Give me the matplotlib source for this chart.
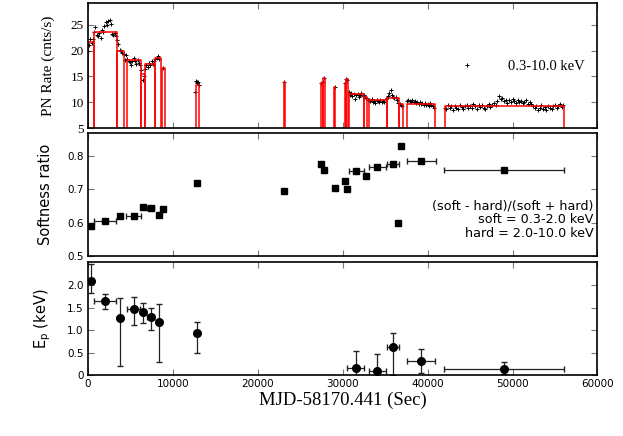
import numpy as np
import matplotlib
matplotlib.use("Agg")
import matplotlib.pyplot as plt

# ---- light curve (PN, 0.3-10 keV) ----
seg1_t0, seg1_dt = 0, 150
seg1_rate = [20.0, 21.0, 22.2, 21.5, 22.3, 23.6, 24.5, 23.0, 22.8, 23.4,
             22.5, 24.0, 23.6, 24.8, 25.5, 24.9, 25.8, 26.0, 25.2, 23.3,
             23.0, 23.4, 22.8, 22.0, 21.3, 20.2, 20.0, 19.6, 19.3, 18.1,
             19.2, 18.3, 18.0, 17.8, 17.3, 17.9, 18.5, 18.0, 17.4, 18.1,
             17.6, 17.2, 16.2, 14.3, 15.0, 16.5, 17.3, 16.9, 17.6, 17.2,
             17.9, 17.4, 18.0, 18.3, 18.6, 18.9, 18.4]
extra_t = [8900, 12650, 12750, 12800, 12900, 13000, 13100, 23100,
           27500, 27650, 27780, 29070, 30250, 30400, 30550]
extra_rate = [16.6, 12.0, 14.2, 14.0, 13.7, 13.9, 13.4, 13.9,
              13.7, 13.9, 14.8, 13.0, 13.7, 14.5, 14.3]
seg2_t0, seg2_dt = 30700, 150
seg2_rate = [12.0, 11.4, 11.8, 11.2, 11.6, 10.6, 11.5, 11.7, 11.0, 11.4,
             11.8, 11.3, 11.5, 11.0, 10.8, 10.5, 10.4, 10.2, 10.6, 10.1,
             10.3, 9.9, 10.5, 10.2, 10.0, 10.4, 10.1, 10.3, 10.0, 10.6,
             10.9, 11.2, 11.9, 12.4, 11.5, 11.0, 10.8, 11.1, 10.4, 9.9,
             9.6, 9.4, 9.2]
seg3_t0, seg3_dt = 37600, 150
seg3_rate = [10.2, 10.5, 10.3, 10.1, 10.4, 10.0, 10.3, 9.8, 10.1, 9.7,
             10.0, 9.6, 9.9, 9.5, 9.8, 9.4, 9.7, 9.3, 9.9, 9.5, 9.2, 8.9]
seg4_t0, seg4_dt = 42000, 200
seg4_rate = [9.0, 8.7, 9.4, 8.9, 9.2, 8.6, 9.3, 9.0, 8.8, 9.5,
             9.1, 8.7, 9.2, 9.4, 8.9, 9.3, 9.0, 9.6, 9.2, 8.8,
             9.4, 9.1, 9.5, 9.0, 8.7, 9.3, 9.6, 9.1, 9.4, 9.8,
             9.5, 10.3, 11.3, 10.6, 10.9, 10.2, 10.5, 9.9, 10.4, 10.1,
             10.6, 10.2, 9.9, 10.4, 10.0, 10.3, 9.8, 10.1, 10.4, 9.7,
             10.0, 9.6, 9.3, 8.9, 9.2, 8.6, 9.0, 9.4, 8.8, 9.1,
             8.5, 9.3, 9.0, 8.7, 9.2, 9.5, 8.9, 9.3, 9.6, 9.1, 9.4]

# Bayesian-block style levels: (start, stop, rate)
block_start = [0, 740, 3400, 4660, 6310, 6780, 7960, 8750, 12680, 23050,
               27450, 27650, 29000, 30250, 30450, 30750, 32520, 33070,
               35230, 36640, 37580, 42020]
block_stop = [740, 3400, 4270, 6310, 6780, 7960, 8590, 9070, 13100, 23200,
              27650, 27900, 29150, 30450, 30640, 32520, 32840, 35230,
              36640, 37110, 40840, 56060]
block_rate = [21.6, 23.6, 20.0, 18.1, 15.5, 17.4, 18.5, 16.6, 13.4, 13.9,
              13.7, 14.8, 13.0, 13.7, 14.5, 11.6, 11.0, 10.4,
              10.8, 9.6, 9.6, 9.2]

# ---- softness ratio ----
sr_t = [350, 2000, 3770, 5410, 6510, 7420, 8360, 8870, 12870, 23110,
        27500, 27780, 29070, 30250, 30520, 31620, 32800, 34100, 35980,
        36920, 36520, 39270, 49000]
sr_val = [0.589, 0.604, 0.621, 0.621, 0.648, 0.644, 0.622, 0.641, 0.720, 0.695,
          0.775, 0.758, 0.704, 0.726, 0.702, 0.754, 0.740, 0.768, 0.777,
          0.830, 0.600, 0.785, 0.759]
sr_terr = [0, 1300, 150, 900, 0, 400, 0, 0, 0, 0,
           0, 0, 0, 0, 0, 900, 0, 1000, 700,
           0, 0, 1670, 7060]

# ---- peak energy ----
ep_t = [350, 2000, 3800, 5410, 6510, 7380, 8360, 12870,
        31550, 34100, 35940, 39230, 49000]
ep_val = [2.10, 1.65, 1.26, 1.47, 1.40, 1.29, 1.19, 0.93,
          0.16, 0.09, 0.62, 0.31, 0.14]
ep_lo = [1.83, 1.48, 0.21, 1.12, 1.16, 1.01, 0.28, 0.49,
         -0.2, -0.2, 0.0, 0.04, 0.02]
ep_hi = [2.48, 1.80, 1.72, 1.73, 1.60, 1.49, 1.58, 1.18,
         0.54, 0.46, 0.93, 0.59, 0.28]
ep_terr = [0, 1300, 200, 750, 0, 400, 0, 0,
           1000, 1050, 700, 1670, 7060]

lc_t = np.concatenate([
    seg1_t0 + seg1_dt * np.arange(len(seg1_rate)), extra_t,
    seg2_t0 + seg2_dt * np.arange(len(seg2_rate)),
    seg3_t0 + seg3_dt * np.arange(len(seg3_rate)),
    seg4_t0 + seg4_dt * np.arange(len(seg4_rate))])
lc_rate = np.concatenate([seg1_rate, extra_rate, seg2_rate, seg3_rate, seg4_rate])

serif = "Liberation Serif"
sans = "DejaVu Sans"

fig = plt.figure(figsize=(6.23, 4.36), dpi=100)
left, width = 0.141, 0.818
ax1 = fig.add_axes([left, 0.706, width, 0.287])
ax2 = fig.add_axes([left, 0.413, width, 0.283])
ax3 = fig.add_axes([left, 0.140, width, 0.259])

for ax in (ax1, ax2, ax3):
    ax.set_xlim(0, 60000)
    ax.set_xticks(np.arange(0, 60001, 10000))
    ax.tick_params(direction="in", top=True, right=True, length=4,
                   width=0.8, color="#777777", labelsize=7.5, pad=3)
    for s in ax.spines.values():
        s.set_linewidth(1.2)
    for lab in ax.get_xticklabels() + ax.get_yticklabels():
        lab.set_family(sans)

# top panel
ax1.plot(lc_t, lc_rate, "+", color="black", ms=3.5, mew=0.7,
         label="0.3-10.0 keV")
for x0, x1, r in zip(block_start, block_stop, block_rate):
    ax1.plot([x0, x0, x1, x1], [5, r, r, 5], color="red", lw=1.1)
ax1.set_ylim(5, 29.2)
ax1.set_yticks([5, 10, 15, 20, 25])
ax1.set_xticklabels([])
for lab in ax1.get_yticklabels():
    lab.set_family(serif)
    lab.set_fontsize(9.5)
ax1.set_ylabel("PN Rate (cnts/s)", family=serif, fontsize=11)
ax1.yaxis.set_label_coords(-0.065, 0.5)
ax1.legend(loc="upper right", bbox_to_anchor=(1.0, 0.65), frameon=False,
           prop={"family": serif, "size": 10.5}, handletextpad=1.8,
           markerscale=0.8)

# middle panel
ax2.errorbar(sr_t, sr_val, xerr=sr_terr, fmt="s", color="black", ms=5,
             elinewidth=0.9, capsize=2, ecolor="#222222")
ax2.set_ylim(0.5, 0.87)
ax2.set_yticks([0.5, 0.6, 0.7, 0.8])
ax2.set_xticklabels([])
ax2.set_ylabel("Softness ratio", family=sans, fontsize=10.5)
ax2.yaxis.set_label_coords(-0.068, 0.5)
ax2.text(0.992, 0.405, "(soft - hard)/(soft + hard)", transform=ax2.transAxes,
         ha="right", va="center", family=sans, fontsize=9.2)
ax2.text(0.992, 0.295, "soft = 0.3-2.0 keV", transform=ax2.transAxes,
         ha="right", va="center", family=sans, fontsize=9.2)
ax2.text(0.992, 0.185, "hard = 2.0-10.0 keV", transform=ax2.transAxes,
         ha="right", va="center", family=sans, fontsize=9.2)

# bottom panel
ep_val_a = np.array(ep_val)
yerr = [ep_val_a - np.array(ep_lo), np.array(ep_hi) - ep_val_a]
ax3.errorbar(ep_t, ep_val, xerr=ep_terr, yerr=yerr, fmt="o", color="black",
             ms=5.5, elinewidth=0.9, capsize=2, ecolor="#222222")
ax3.set_ylim(0, 2.52)
ax3.set_yticks([0, 0.5, 1.0, 1.5, 2.0])
ax3.set_yticklabels(["0", "0.5", "1.0", "1.5", "2.0"], family=sans)
ax3.set_xticklabels([str(v) for v in range(0, 60001, 10000)], family=sans)
ax3.set_ylabel(r"E$_\mathregular{p}$ (keV)", family=sans, fontsize=10.5)
ax3.yaxis.set_label_coords(-0.068, 0.5)
ax3.set_xlabel("MJD-58170.441 (Sec)", family=serif, fontsize=13.5, labelpad=2)

fig.savefig("out.png", dpi=100)
